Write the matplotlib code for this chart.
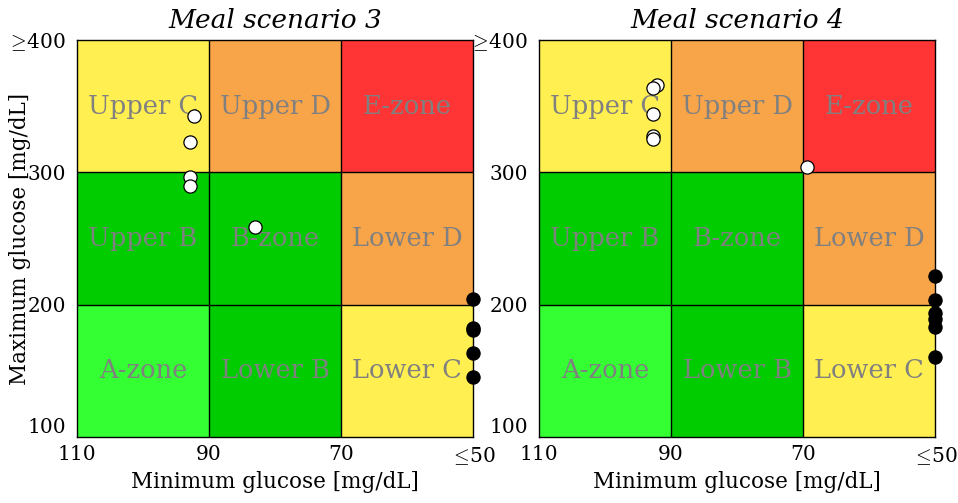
import matplotlib
matplotlib.use("Agg")
import matplotlib.pyplot as plt
import numpy as np

plt.rcParams['font.family'] = ['DejaVu Serif']
plt.rcParams['mathtext.fontset'] = 'cm'

titles = ["Meal scenario 3", "Meal scenario 4"]

# x boundaries (min glucose, reversed) and y boundaries (max glucose)
x_edges = [110, 90, 70, 50]
y_edges = [100, 200, 300, 400]
x_ticklabels = ["110", "90", "70", r"$\leq\!$50"]
y_ticklabels = ["100", "200", "300", r"$\geq\!$400"]

zone_names = [["A-zone", "Lower B", "Lower C"],
              ["Upper B", "B-zone", "Lower D"],
              ["Upper C", "Upper D", "E-zone"]]
zone_colors = [["#33ff33", "#00cc00", "#ffef50"],
               ["#00cc00", "#00cc00", "#f8a54a"],
               ["#ffef50", "#f8a54a", "#ff3535"]]

# Scenario 3
s3_white_x = [92.3, 92.9, 92.9, 92.9, 83.0]
s3_white_y = [342.8, 322.7, 296.2, 289.6, 258.4]
s3_black_x = [50, 50, 50, 50, 50]
s3_black_y = [204.0, 182.0, 181.0, 163.6, 145.0]

# Scenario 4
s4_white_x = [92.1, 92.8, 92.8, 92.8, 92.8, 69.4]
s4_white_y = [366.0, 363.5, 343.8, 327.4, 325.0, 304.2]
s4_black_x = [50, 50, 50, 50, 50, 50]
s4_black_y = [221.8, 203.5, 193.4, 189.1, 183.3, 160.2]

white = [(s3_white_x, s3_white_y), (s4_white_x, s4_white_y)]
black = [(s3_black_x, s3_black_y), (s4_black_x, s4_black_y)]

fig = plt.figure(figsize=(9.58, 5.03), dpi=100)
axes = [fig.add_axes([77/958, 1-437/503, 396/958, 397/503]),
        fig.add_axes([539/958, 1-437/503, 396/958, 397/503])]

for k, ax in enumerate(axes):
    for i in range(3):
        for j in range(3):
            x0, x1 = x_edges[j], x_edges[j+1]
            y0, y1 = y_edges[i], y_edges[i+1]
            ax.fill([x0, x1, x1, x0], [y0, y0, y1, y1], color=zone_colors[i][j],
                    zorder=0, lw=0)
            ax.text((x0+x1)/2, (y0+y1)/2, zone_names[i][j], ha='center', va='center',
                    color='#808080', fontsize=18.5, zorder=1)
    for xv in x_edges[1:-1]:
        ax.axvline(xv, color='black', lw=1, zorder=2)
    for yv in y_edges[1:-1]:
        ax.axhline(yv, color='black', lw=1, zorder=2)
    ax.set_xlim(110, 50)
    ax.set_ylim(100, 400)
    ax.set_xticks(x_edges)
    ax.set_xticklabels(x_ticklabels, fontsize=14.5)
    ax.set_yticks(y_edges)
    ax.set_yticklabels(y_ticklabels, fontsize=14.5)
    ax.tick_params(axis='x', length=0, pad=6)
    ax.tick_params(axis='y', length=0, pad=8)
    ax.get_yticklabels()[0].set_va('bottom')
    ax.scatter(white[k][0], white[k][1], s=90, facecolor='white', edgecolor='black',
               lw=0.9, zorder=5, clip_on=False)
    ax.scatter(black[k][0], black[k][1], s=90, facecolor='black', edgecolor='black',
               lw=0.9, zorder=5, clip_on=False)
    ax.set_title(titles[k], fontsize=19, style='italic', pad=9)
    ax.set_xlabel("Minimum glucose [mg/dL]", fontsize=15.5, labelpad=3)
    for sp in ax.spines.values():
        sp.set_linewidth(1)
        sp.set_zorder(3)

axes[0].set_ylabel("Maximum glucose [mg/dL]", fontsize=15.5)
axes[0].yaxis.label.set_va('center')
axes[0].yaxis.set_label_coords(-0.145, 0.5)

fig.savefig("out.png", dpi=100)
